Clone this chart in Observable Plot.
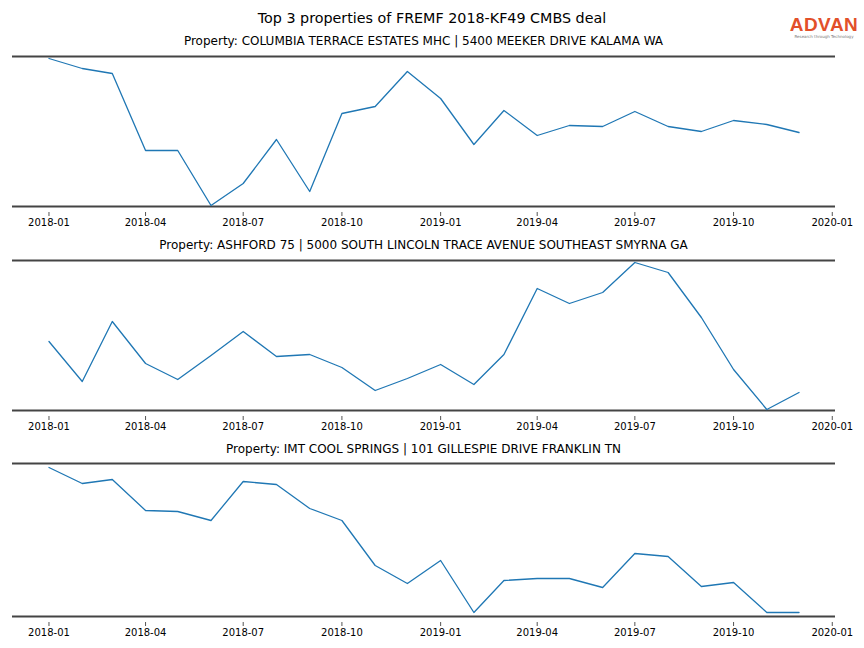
<!DOCTYPE html>
<html>
<head>
<meta charset="utf-8">
<script src="https://cdn.jsdelivr.net/npm/d3@7"></script>
<script src="https://cdn.jsdelivr.net/npm/@observablehq/plot@0.6"></script>
<style>
  html, body { margin: 0; padding: 0; background: #fff; }
  #wrap { position: relative; width: 864px; height: 648px; font-family: "DejaVu Sans", sans-serif; color: #000; overflow: hidden; }
  .title { position: absolute; left: 0; width: 864px; text-align: center; white-space: nowrap; }
  .sub { position: absolute; left: 12px; width: 823px; text-align: center; white-space: nowrap; }
  .panel { position: absolute; left: 0; }
  #logo { position: absolute; left: 789px; top: 15px; width: 70px; text-align: center; }
  #logo .big { font-family: "Liberation Sans", Arial, sans-serif; font-size: 19px; font-weight: 600; color: #e2502a; letter-spacing: 0.5px; line-height: 19px; height: 19px; }
  #logo .small { font-family: "DejaVu Sans", sans-serif; font-size: 4px; color: #777; line-height: 5px; white-space: nowrap; }
</style>
</head>
<body>
<div id="wrap"></div>
<script>
// ---- data ----
const months = ["2018-01","2018-02","2018-03","2018-04","2018-05","2018-06","2018-07","2018-08","2018-09","2018-10","2018-11","2018-12",
                "2019-01","2019-02","2019-03","2019-04","2019-05","2019-06","2019-07","2019-08","2019-09","2019-10","2019-11","2019-12"];
const tickLabels = ["2018-01","2018-04","2018-07","2018-10","2019-01","2019-04","2019-07","2019-10","2020-01"];

const mainTitle = "Top 3 properties of FREMF 2018-KF49 CMBS deal";
const titles = [
  "Property: COLUMBIA TERRACE ESTATES MHC | 5400 MEEKER DRIVE KALAMA WA",
  "Property: ASHFORD 75 | 5000 SOUTH LINCOLN TRACE AVENUE SOUTHEAST SMYRNA GA",
  "Property: IMT COOL SPRINGS | 101 GILLESPIE DRIVE FRANKLIN TN"
];
const series1 = [148,138,133,56,56,1,23,67,15,93,100,135,108,62,96,71,81,80,95,80,75,86,82,74];
const series2 = [69,29,89,47,31,55,79,54,56,43,20,32,46,26,56,122,107,118,148,138,93,41,1,18];
const series3 = [149,133,137,106,105,96,135,132,108,96,51,33,56,4,36,38,38,29,63,60,30,34,4,4];
const yDomains = [[0,150],[0,150],[0,153]];

// ---- layout ----
const parse = d3.utcParse("%Y-%m");
const wrap = document.getElementById("wrap");

function addText(cls, text, top, size) {
  const d = document.createElement("div");
  d.className = cls;
  d.textContent = text;
  d.style.top = top + "px";
  d.style.fontSize = size + "px";
  wrap.appendChild(d);
}
addText("title", mainTitle, 10, 14.3);

const logo = document.createElement("div");
logo.id = "logo";
logo.innerHTML = '<div class="big">ADVAN</div><div class="small">Research through Technology</div>';
wrap.appendChild(logo);

const allSeries = [series1, series2, series3];
const spineTops = [56, 260, 463];
const heights = [150, 150, 153];
const titleTops = [34, 238, 442];
const xDomain = [new Date(Date.UTC(2017,10,28)), new Date(Date.UTC(2020,0,4))];
const ticks = tickLabels.map(parse);

allSeries.forEach((vals, i) => {
  addText("sub", titles[i], titleTops[i], 12);
  const data = months.map((m, j) => ({date: parse(m), value: vals[j]}));
  const mt = 2;
  const p = Plot.plot({
    width: 864,
    height: heights[i] + mt + 30,
    marginLeft: 12,
    marginRight: 29,
    marginTop: mt,
    marginBottom: 30,
    style: {fontFamily: "DejaVu Sans, sans-serif", fontSize: "10px", background: "transparent"},
    x: {type: "utc", domain: xDomain},
    y: {domain: yDomains[i], axis: null},
    marks: [
      Plot.ruleY(yDomains[i], {stroke: "#444", strokeWidth: 1.8}),
      Plot.line(data, {x: "date", y: "value", stroke: "#1f77b4", strokeWidth: 1.3}),
      Plot.axisX({ticks: ticks, tickFormat: d3.utcFormat("%Y-%m"), tickSize: 4, tickPadding: 2, dy: 6, fill: "#000", stroke: "#555"})
    ]
  });
  p.classList.add("panel");
  p.style.position = "absolute";
  p.style.top = (spineTops[i] - mt) + "px";
  wrap.appendChild(p);
});
</script>
</body>
</html>
